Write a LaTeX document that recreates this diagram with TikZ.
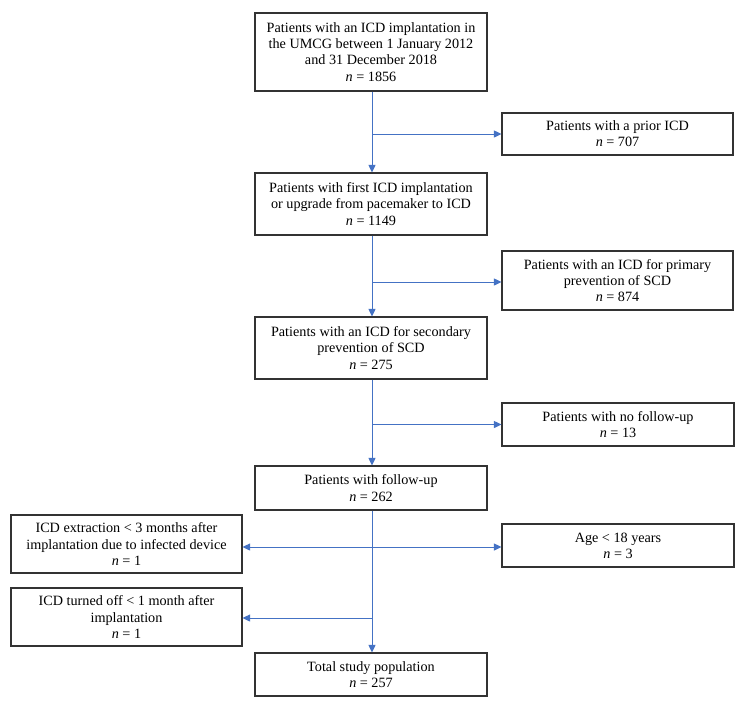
\documentclass[tikz,border=0pt]{standalone}
\usepackage{fontspec}
\setmainfont{Liberation Serif}
\usetikzlibrary{arrows.meta,calc}
\definecolor{arrblue}{HTML}{4472C4}
\definecolor{boxline}{HTML}{333333}
\begin{document}
\begin{tikzpicture}[x=1pt,y=-1pt,
  box/.style={draw=boxline,line width=1.1pt,rectangle,align=center,inner sep=0pt,
    font=\fontsize{14.2}{16.2}\selectfont},
  arr/.style={draw=arrblue,line width=0.9pt,-{Triangle[length=7.5pt,width=7pt]}}]
\useasboundingbox[fill=white] (0,0) rectangle (743,702);
\node[box,minimum width=232pt,minimum height=78pt] (top) at (371,52)
  {Patients with an ICD implantation in\\the UMCG between 1 January 2012\\and 31 December 2018\\\textit{n} = 1856};
\node[box,minimum width=231pt,minimum height=42pt] (prior) at (617.5,134)
  {Patients with a prior ICD\\\textit{n} = 707};
\node[box,minimum width=232pt,minimum height=62pt] (first) at (371,204)
  {Patients with first ICD implantation\\or upgrade from pacemaker to ICD\\\textit{n} = 1149};
\node[box,minimum width=231pt,minimum height=59pt] (primary) at (617.5,280.5)
  {Patients with an ICD for primary\\prevention of SCD\\\textit{n} = 874};
\node[box,minimum width=232pt,minimum height=62pt] (secondary) at (371,348)
  {Patients with an ICD for secondary\\prevention of SCD\\\textit{n} = 275};
\node[box,minimum width=232pt,minimum height=43pt] (nofollow) at (618,424.5)
  {Patients with no follow-up\\\textit{n} = 13};
\node[box,minimum width=232pt,minimum height=44pt] (follow) at (371,488)
  {Patients with follow-up\\\textit{n} = 262};
\node[box,minimum width=231pt,minimum height=58pt] (extraction) at (126.5,544)
  {ICD extraction {<} 3 months after\\implantation due to infected device\\\textit{n} = 1};
\node[box,minimum width=232pt,minimum height=43pt] (age) at (618,545.5)
  {Age {<} 18 years\\\textit{n} = 3};
\node[box,minimum width=231pt,minimum height=58pt] (turnedoff) at (126.5,617)
  {ICD turned off {<} 1 month after\\implantation\\\textit{n} = 1};
\node[box,minimum width=232pt,minimum height=43pt] (total) at (371,674.5)
  {Total study population\\\textit{n} = 257};
% main spine
\draw[arr] ([xshift=1pt]top.south) -- ([xshift=1pt]first.north);
\draw[arr] ([xshift=1pt]first.south) -- ([xshift=1pt]secondary.north);
\draw[arr] ([xshift=1pt]secondary.south) -- ([xshift=1pt]follow.north);
\draw[arr] ([xshift=1pt]follow.south) -- ([xshift=1pt]total.north);
% branches
\coordinate (b1) at ([xshift=1pt]top.south |- prior.west);
\coordinate (b2) at ($([xshift=1pt]first.south |- primary.west)+(0,1.5)$);
\coordinate (b3) at ([xshift=1pt]secondary.south |- nofollow.west);
\coordinate (b4) at ($([xshift=1pt]follow.south |- age.west)+(0,1.5)$);
\coordinate (b5) at ($([xshift=1pt]follow.south |- turnedoff.east)+(0,1)$);
\draw[arr] (b1) -- (prior.west);
\draw[arr] (b2) -- (primary.west |- b2);
\draw[arr] (b3) -- (nofollow.west);
\draw[arr] (b4) -- (age.west |- b4);
\draw[arr] (b4) -- (extraction.east |- b4);
\draw[arr] (b5) -- (turnedoff.east |- b5);
\end{tikzpicture}
\end{document}
